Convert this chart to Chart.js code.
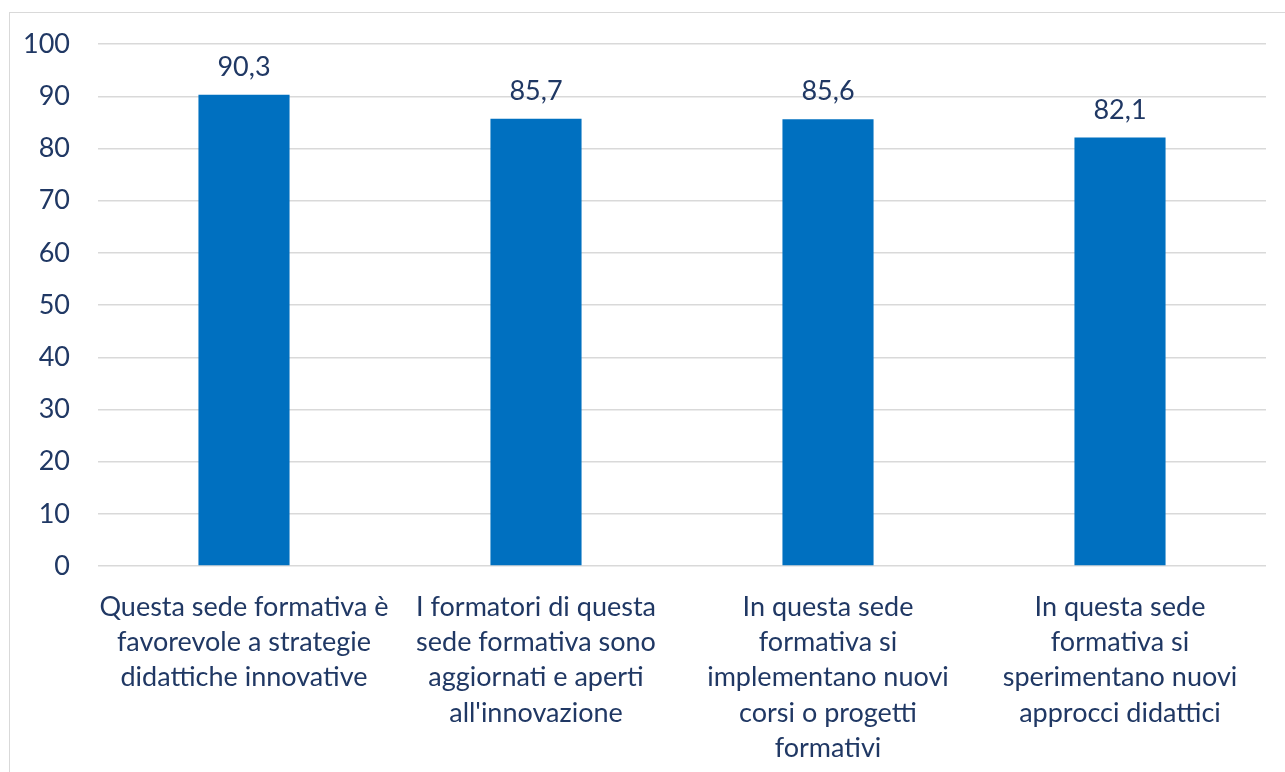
<!DOCTYPE html>
<html>
<head>
<meta charset="utf-8">
<script src="https://cdn.jsdelivr.net/npm/chart.js@4.4.1/dist/chart.umd.min.js"></script>
<style>
  body { margin: 0; background: #fff; }
  #wrap { position: relative; width: 1285px; height: 772px; overflow: hidden; }
  #frame { position: absolute; left: 9px; top: 12px; width: 1300px; height: 800px;
           border: 1.5px solid #d9d9d9; box-sizing: border-box; }
  canvas { position: absolute; left: 0; top: 0; }
</style>
</head>
<body>
<div id="wrap">
  <div id="frame"></div>
  <canvas id="barChart" width="1285" height="772"></canvas>
</div>
<script>
// categories and values
const categories = [
    ['Questa sede formativa è', 'favorevole a strategie', 'didattiche innovative'],
    ['I formatori di questa', 'sede formativa sono', 'aggiornati e aperti', "all'innovazione"],
    ['In questa sede', 'formativa si', 'implementano nuovi', 'corsi o progetti', 'formativi'],
    ['In questa sede', 'formativa si', 'sperimentano nuovi', 'approcci didattici']
];
const values = [90.3, 85.7, 85.6, 82.1];
const yTicks = [0, 10, 20, 30, 40, 50, 60, 70, 80, 90, 100];

const textColor = '#203864';
const fontFamily = 'Lato, "Open Sans", sans-serif';

// value labels above bars, comma decimal
const valueLabels = {
    id: 'valueLabels',
    afterDatasetsDraw(chart) {
        const ctx = chart.ctx;
        const meta = chart.getDatasetMeta(0);
        ctx.save();
        ctx.fillStyle = textColor;
        ctx.font = '27px ' + fontFamily;
        ctx.textAlign = 'center';
        ctx.textBaseline = 'alphabetic';
        meta.data.forEach((bar, i) => {
            const txt = values[i].toFixed(1).replace('.', ',');
            ctx.fillText(txt, bar.x, bar.y - 19);
        });
        ctx.restore();
    }
};

const barCtx = document.getElementById('barChart').getContext('2d');
new Chart(barCtx, {
    type: 'bar',
    data: {
        labels: categories,
        datasets: [{
            data: values,
            backgroundColor: '#0070c0',
            categoryPercentage: 1,
            barPercentage: 0.312
        }]
    },
    options: {
        responsive: false,
        animation: false,
        layout: {
            padding: { left: 0, top: 43, right: 19, bottom: 0 }
        },
        plugins: {
            legend: { display: false },
            tooltip: { enabled: false }
        },
        scales: {
            x: {
                afterFit(scale) { scale.height = 206; },
                grid: { display: false },
                border: { display: false },
                ticks: {
                    color: textColor,
                    font: { family: fontFamily, size: 27, lineHeight: 1.3 },
                    padding: 16,
                    maxRotation: 0,
                    autoSkip: false
                }
            },
            y: {
                min: 0,
                max: 100,
                afterFit(scale) { scale.width = 98; },
                afterBuildTicks(scale) { scale.ticks = yTicks.map(v => ({ value: v })); },
                grid: { color: '#d9d9d9', lineWidth: 1.5, drawTicks: false },
                border: { display: false },
                ticks: {
                    color: textColor,
                    font: { family: fontFamily, size: 27 },
                    padding: 28
                }
            }
        }
    },
    plugins: [valueLabels]
});
</script>
</body>
</html>
